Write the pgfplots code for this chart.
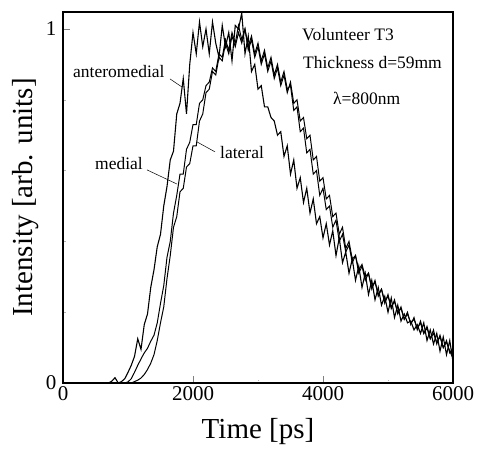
\documentclass[border=0pt]{standalone}
\usepackage{pgfplots}
\pgfplotsset{compat=1.18}
\usepackage{fontspec}
\setmainfont{Liberation Serif}
\begin{document}
\begin{tikzpicture}[x=1pt,y=1pt]
\useasboundingbox (0,0) rectangle (478,450);
\begin{axis}[
  at={(63pt,67pt)}, anchor=south west,
  scale only axis, width=390pt, height=371pt,
  xmin=0, xmax=6000, ymin=0, ymax=1.048,
  xtick={0,2000,4000,6000}, ytick={0,1},
  minor xtick={1000,3000,5000}, minor ytick={0.2,0.4,0.6,0.8},
  tick align=inside, major tick length=7pt, minor tick length=3pt,
  minor tick style={gray!60, densely dotted},
  xtick pos=bottom, ytick pos=left,
  axis line style={line width=1.2pt},
  /pgf/number format/assume math mode=true,
  scaled x ticks=false,
  xticklabel style={font=\fontsize{21}{23}\selectfont, /pgf/number format/1000 sep={}},
  yticklabel style={font=\fontsize{21}{23}\selectfont, xshift=-3pt},
  xlabel={Time [ps]}, ylabel={Intensity [arb. units]},
  xlabel style={font=\fontsize{29}{31}\selectfont, at={(axis description cs:0.5,-0.132)}, anchor=center},
  ylabel style={font=\fontsize{29}{31}\selectfont, at={(axis description cs:-0.097,0.5)}, anchor=center},
  clip=true,
]
% anteromedial
\addplot[black, line width=1.1pt] coordinates {
(600,0)(650,0)(700,0)(750,0.005)(800,0.015)(850,0)(900,0.004)(950,0.012)(1000,0.03)(1050,0.05)
(1100,0.075)(1150,0.125)(1200,0.095)(1250,0.165)(1300,0.195)(1350,0.27)(1400,0.32)(1450,0.385)(1500,0.42)(1550,0.50)
(1600,0.555)(1650,0.63)(1700,0.655)(1750,0.76)(1800,0.79)(1850,0.86)(1900,0.76)(1950,0.90)(2000,0.99)(2050,0.93)
(2100,1.02)(2150,0.95)(2200,1.00)(2250,0.93)(2300,1.02)(2350,0.96)(2400,0.92)(2450,1.01)(2500,0.95)(2550,0.99)
(2600,0.91)(2650,1.01)(2700,1.00)(2750,1.045)(2800,0.93)(2850,0.98)(2900,0.88)(2950,0.90)(3000,0.83)(3050,0.84)
(3100,0.78)(3150,0.78)(3200,0.75)(3250,0.74)(3300,0.70)(3350,0.71)(3400,0.64)(3450,0.67)(3500,0.59)(3550,0.63)
(3600,0.55)(3650,0.58)(3700,0.51)(3750,0.55)(3800,0.48)(3850,0.52)(3900,0.45)(3950,0.47)(4000,0.41)(4050,0.45)
(4100,0.39)(4150,0.43)(4200,0.36)(4250,0.41)(4300,0.34)(4350,0.37)(4400,0.31)(4450,0.35)(4500,0.29)(4550,0.33)
(4600,0.27)(4650,0.31)(4700,0.25)(4750,0.29)(4800,0.235)(4850,0.27)(4900,0.22)(4950,0.245)(5000,0.20)(5050,0.24)
(5100,0.185)(5150,0.22)(5200,0.175)(5250,0.195)(5300,0.17)(5350,0.175)(5400,0.15)(5450,0.165)(5500,0.14)(5550,0.17)
(5600,0.12)(5650,0.15)(5700,0.11)(5750,0.14)(5800,0.09)(5850,0.13)(5900,0.08)(5950,0.12)(6000,0.06)
};
% medial
\addplot[black, line width=1.0pt] coordinates {
(600,0)(950,0)(1000,0.003)(1050,0.012)(1100,0.03)(1150,0.05)(1200,0.068)(1250,0.085)(1300,0.098)(1350,0.118)
(1400,0.135)(1450,0.17)(1500,0.225)(1550,0.275)(1600,0.355)(1650,0.40)(1700,0.48)(1750,0.53)(1800,0.59)(1850,0.59)
(1900,0.66)(1950,0.68)(2000,0.73)(2050,0.73)(2100,0.79)(2150,0.80)(2200,0.84)(2250,0.85)(2300,0.89)(2350,0.88)
(2400,0.93)(2450,0.92)(2500,0.97)(2550,0.94)(2600,0.99)(2650,0.96)(2700,1.01)(2750,0.97)(2800,1.00)(2850,0.95)
(2900,0.98)(2950,0.93)(3000,0.96)(3050,0.91)(3100,0.94)(3150,0.89)(3200,0.92)(3250,0.87)(3300,0.90)(3350,0.85)
(3400,0.88)(3450,0.83)(3500,0.84)(3550,0.77)(3600,0.78)(3650,0.71)(3700,0.72)(3750,0.65)(3800,0.66)(3850,0.59)
(3900,0.60)(3950,0.53)(4000,0.55)(4050,0.49)(4100,0.50)(4150,0.44)(4200,0.46)(4250,0.40)(4300,0.42)(4350,0.37)
(4400,0.39)(4450,0.34)(4500,0.36)(4550,0.31)(4600,0.33)(4650,0.29)(4700,0.31)(4750,0.265)(4800,0.29)(4850,0.245)
(4900,0.265)(4950,0.225)(5000,0.25)(5050,0.21)(5100,0.235)(5150,0.195)(5200,0.215)(5250,0.18)(5300,0.20)(5350,0.165)
(5400,0.185)(5450,0.15)(5500,0.175)(5550,0.14)(5600,0.16)(5650,0.125)(5700,0.15)(5750,0.11)(5800,0.135)(5850,0.10)
(5900,0.12)(5950,0.085)(6000,0.10)
};
% lateral
\addplot[black, line width=1.0pt] coordinates {
(600,0)(1050,0)(1100,0.004)(1150,0.008)(1200,0.014)(1250,0.024)(1300,0.038)(1350,0.056)(1400,0.08)(1450,0.12)
(1500,0.17)(1550,0.215)(1600,0.295)(1650,0.36)(1700,0.44)(1750,0.47)(1800,0.54)(1850,0.55)(1900,0.61)(1950,0.62)
(2000,0.67)(2050,0.67)(2100,0.74)(2150,0.76)(2200,0.82)(2250,0.83)(2300,0.88)(2350,0.87)(2400,0.92)(2450,0.91)
(2500,0.96)(2550,0.93)(2600,0.98)(2650,0.95)(2700,0.99)(2750,0.96)(2800,1.00)(2850,0.94)(2900,0.97)(2950,0.92)
(3000,0.95)(3050,0.90)(3100,0.93)(3150,0.88)(3200,0.91)(3250,0.86)(3300,0.89)(3350,0.84)(3400,0.87)(3450,0.82)
(3500,0.85)(3550,0.79)(3600,0.80)(3650,0.74)(3700,0.75)(3750,0.69)(3800,0.70)(3850,0.63)(3900,0.64)(3950,0.57)
(4000,0.58)(4050,0.52)(4100,0.53)(4150,0.47)(4200,0.48)(4250,0.42)(4300,0.44)(4350,0.38)(4400,0.40)(4450,0.35)
(4500,0.36)(4550,0.32)(4600,0.335)(4650,0.30)(4700,0.31)(4750,0.27)(4800,0.285)(4850,0.25)(4900,0.265)(4950,0.23)
(5000,0.245)(5050,0.215)(5100,0.23)(5150,0.20)(5200,0.21)(5250,0.18)(5300,0.195)(5350,0.17)(5400,0.18)(5450,0.155)
(5500,0.17)(5550,0.14)(5600,0.155)(5650,0.125)(5700,0.14)(5750,0.115)(5800,0.13)(5850,0.10)(5900,0.115)(5950,0.09)
(6000,0.07)
};
\node[anchor=west, inner sep=0pt, font=\fontsize{17.5}{19}\selectfont] at (axis cs:3677,0.983) {Volunteer T3};
\node[anchor=west, inner sep=0pt, font=\fontsize{17.5}{19}\selectfont] at (axis cs:3692,0.904) {Thickness d=59mm};
\node[anchor=west, inner sep=0pt, font=\fontsize{17.5}{19}\selectfont] at (axis cs:4154,0.805) {λ=800nm};
\node[anchor=west, inner sep=0pt, font=\fontsize{17.5}{19}\selectfont] at (axis cs:154,0.879) {anteromedial};
\node[anchor=west, inner sep=0pt, font=\fontsize{17.5}{19}\selectfont] at (axis cs:492,0.621) {medial};
\node[anchor=west, inner sep=0pt, font=\fontsize{17.5}{19}\selectfont] at (axis cs:2415,0.650) {lateral};
\draw[black, line width=0.5pt] (axis cs:1646,0.859) -- (axis cs:1831,0.836);
\draw[black, line width=0.5pt] (axis cs:1292,0.602) -- (axis cs:1754,0.562);
\draw[black, line width=0.5pt] (axis cs:2338,0.653) -- (axis cs:2062,0.681);
\end{axis}
\end{tikzpicture}
\end{document}
